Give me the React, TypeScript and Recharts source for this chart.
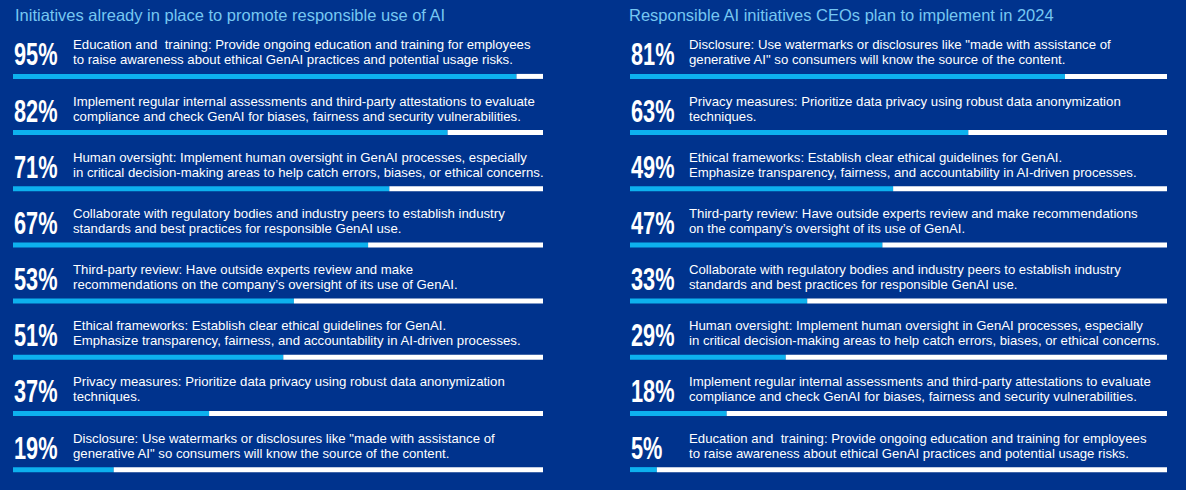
import React from 'react';
import { BarChart, Bar, XAxis, YAxis, LabelList } from 'recharts';

const BG = '#00338D';
const FILL = '#0DB1EE';
const TITLE = '#76C7F2';

const leftTitle = 'Initiatives already in place to promote responsible use of AI';
const leftValues = [95, 82, 71, 67, 53, 51, 37, 19];
const leftText = [
  ['Education and  training: Provide ongoing education and training for employees', 'to raise awareness about ethical GenAI practices and potential usage risks.'],
  ['Implement regular internal assessments and third-party attestations to evaluate', 'compliance and check GenAI for biases, fairness and security vulnerabilities.'],
  ['Human oversight: Implement human oversight in GenAI processes, especially', 'in critical decision-making areas to help catch errors, biases, or ethical concerns.'],
  ['Collaborate with regulatory bodies and industry peers to establish industry', 'standards and best practices for responsible GenAI use.'],
  ['Third-party review: Have outside experts review and make', 'recommendations on the company\u2019s oversight of its use of GenAI.'],
  ['Ethical frameworks: Establish clear ethical guidelines for GenAI.', 'Emphasize transparency, fairness, and accountability in AI-driven processes.'],
  ['Privacy measures: Prioritize data privacy using robust data anonymization', 'techniques.'],
  ['Disclosure: Use watermarks or disclosures like "made with assistance of', 'generative AI" so consumers will know the source of the content.'],
];

const rightTitle = 'Responsible AI initiatives CEOs plan to implement in 2024';
const rightValues = [81, 63, 49, 47, 33, 29, 18, 5];
const rightText = [
  ['Disclosure: Use watermarks or disclosures like "made with assistance of', 'generative AI" so consumers will know the source of the content.'],
  ['Privacy measures: Prioritize data privacy using robust data anonymization', 'techniques.'],
  ['Ethical frameworks: Establish clear ethical guidelines for GenAI.', 'Emphasize transparency, fairness, and accountability in AI-driven processes.'],
  ['Third-party review: Have outside experts review and make recommendations', 'on the company\u2019s oversight of its use of GenAI.'],
  ['Collaborate with regulatory bodies and industry peers to establish industry', 'standards and best practices for responsible GenAI use.'],
  ['Human oversight: Implement human oversight in GenAI processes, especially', 'in critical decision-making areas to help catch errors, biases, or ethical concerns.'],
  ['Implement regular internal assessments and third-party attestations to evaluate', 'compliance and check GenAI for biases, fairness and security vulnerabilities.'],
  ['Education and  training: Provide ongoing education and training for employees', 'to raise awareness about ethical GenAI practices and potential usage risks.'],
];

const FONT = "'Liberation Sans', Arial, sans-serif";

interface PanelProps {
  title: string;
  values: number[];
  text: string[][];
  left: number;
  width: number;
  marginLeft: number;
  marginRight: number;
  textOffset: number;
  titleX: number;
}

const Panel: React.FC<PanelProps> = ({ title, values, text, left, width, marginLeft, marginRight, textOffset, titleX }) => {
  const data = values.map((v, i) => ({ name: `r${i}`, value: v, rest: 100 - v }));

  const renderLabel = (props: any) => {
    const { x, y, index } = props;
    const lines = text[index];
    return (
      <g>
        {/* condensed look: squeeze a bold sans horizontally */}
        <text
          transform={`translate(${x + 1}, ${y - 8.5}) scale(0.68, 1)`}
          fill="#fff"
          fontSize={32}
          fontWeight="bold"
          fontFamily={FONT}
        >
          {values[index]}%
        </text>
        <text x={x + textOffset} y={y - 24.5} fill="#fff" fontSize={13.2} fontFamily={FONT} style={{ whiteSpace: 'pre' }}>
          {lines[0]}
        </text>
        <text x={x + textOffset} y={y - 9.5} fill="#fff" fontSize={13.2} fontFamily={FONT} style={{ whiteSpace: 'pre' }}>
          {lines[1]}
        </text>
      </g>
    );
  };

  return (
    <div style={{ position: 'absolute', left, top: 0, width, height: 490, overflow: 'hidden' }}>
      <div
        style={{
          position: 'absolute',
          left: titleX,
          top: 6,
          color: TITLE,
          fontSize: 16.5,
          fontFamily: FONT,
          whiteSpace: 'nowrap',
        }}
      >
        {title}
      </div>
      <BarChart
        width={width}
        height={500}
        data={data}
        layout="vertical"
        margin={{ top: 47.9, bottom: 2.7, left: marginLeft, right: marginRight }}
      >
        <XAxis type="number" domain={[0, 100]} hide />
        <YAxis type="category" dataKey="name" hide />
        <Bar dataKey="value" stackId="a" fill={FILL} barSize={5} isAnimationActive={false}>
          <LabelList dataKey="value" content={renderLabel} />
        </Bar>
        <Bar dataKey="rest" stackId="a" fill="#ffffff" barSize={5} isAnimationActive={false} />
      </BarChart>
    </div>
  );
};

export default function App() {
  return (
    <div style={{ position: 'absolute', left: 0, top: 0, width: 1186, height: 490, background: BG, overflow: 'hidden' }}>
      <Panel title={leftTitle} values={leftValues} text={leftText} left={0} width={593} marginLeft={13} marginRight={50} textOffset={60} titleX={15} />
      <Panel title={rightTitle} values={rightValues} text={rightText} left={593} width={593} marginLeft={37} marginRight={19} textOffset={59} titleX={36} />
    </div>
  );
}
